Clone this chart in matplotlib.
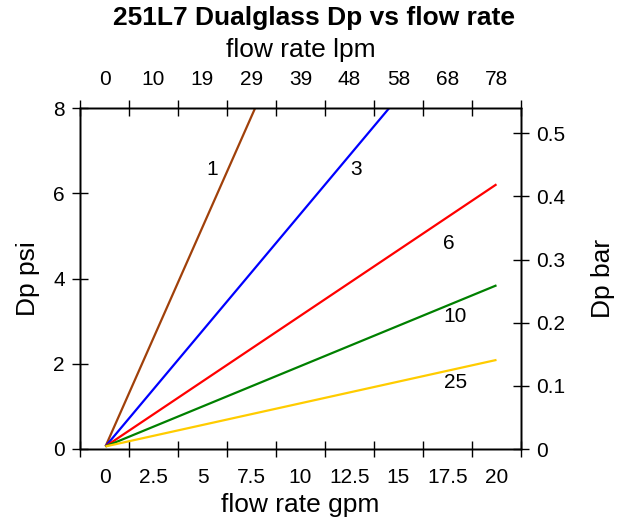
import numpy as np
import matplotlib
matplotlib.use("Agg")
import matplotlib.pyplot as plt

plt.rcParams['font.family'] = ['Liberation Sans', 'DejaVu Sans']

# flow in gpm, Dp in psi
flow_gpm = [0.05, 20.0]
series_names = ["1", "3", "6", "10", "25"]
dp_1 = [0.06, 20.8]
dp_3 = [0.06, 11.0]
dp_6 = [0.06, 6.21]
dp_10 = [0.06, 3.84]
dp_25 = [0.06, 2.09]
colors = ["#a0400a", "#0000ff", "#ff0000", "#008000", "#ffcc00"]

# label anchor points (gpm, psi)
label_x = [5.49, 12.81, 17.57, 17.91, 17.91]
label_y = [6.55, 6.55, 4.83, 3.11, 1.57]

gpm_ticks = [0, 2.5, 5, 7.5, 10, 12.5, 15, 17.5, 20]
gpm_labels = ["0", "2.5", "5", "7.5", "10", "12.5", "15", "17.5", "20"]
lpm_labels = ["0", "10", "19", "29", "39", "48", "58", "68", "78"]
psi_ticks = [0, 2, 4, 6, 8]
bar_ticks = [0, 0.1, 0.2, 0.3, 0.4, 0.5]
bar_labels = ["0", "0.1", "0.2", "0.3", "0.4", "0.5"]

fs_tick = 15
fs_label = 19

fig = plt.figure(figsize=(6.28, 5.22), dpi=100)
ax = fig.add_axes([80 / 628, 1 - 449 / 522, 441 / 628, 341 / 522])

for dp, c in zip([dp_1, dp_3, dp_6, dp_10, dp_25], colors):
    ax.plot(flow_gpm, dp, color=c, lw=1.6, solid_capstyle='butt')
for name, x, y in zip(series_names, label_x, label_y):
    ax.text(x, y, name, ha='center', va='center', fontsize=fs_tick)

xlo, xhi = -1.25, 21.25
edges = np.arange(xlo, xhi + 0.01, 2.5)
ax.set_xlim(xlo, xhi)
ax.set_ylim(0, 8)
ax.set_xticks(edges)
ax.set_xticklabels([])
ax.set_xticks(gpm_ticks, minor=True)
ax.set_xticklabels(gpm_labels, minor=True)
ax.set_yticks(psi_ticks)
ax.set_yticklabels([str(v) for v in psi_ticks])
ax.tick_params(which='major', direction='inout', length=12, width=1, labelsize=fs_tick, pad=5)
ax.tick_params(axis='x', which='minor', length=0, pad=14, labelsize=fs_tick)

axr = ax.twinx()
axr.set_ylim(0, 0.54)
axr.set_yticks(bar_ticks)
axr.set_yticklabels(bar_labels)
axr.tick_params(direction='inout', length=12, width=1, labelsize=fs_tick, pad=5)

axt = ax.twiny()
axt.set_xlim(xlo, xhi)
axt.set_xticks(edges)
axt.set_xticklabels([])
axt.set_xticks(gpm_ticks, minor=True)
axt.set_xticklabels(lpm_labels, minor=True)
axt.tick_params(which='major', direction='inout', length=12, width=1)
axt.tick_params(which='minor', length=0, pad=14, labelsize=fs_tick)

for a in (ax, axr, axt):
    for s in a.spines.values():
        s.set_linewidth(1)

ax.set_xlabel("flow rate gpm", fontsize=fs_label)
ax.xaxis.label.set_va('center')
ax.xaxis.set_label_coords(0.5, (449 - 505) / 341)
ax.set_ylabel("Dp psi", fontsize=fs_label)
ax.yaxis.label.set_va('center')
ax.yaxis.set_label_coords((28 - 80) / 441, 0.5)
axr.set_ylabel("Dp bar", fontsize=fs_label)
axr.yaxis.label.set_va('center')
axr.yaxis.set_label_coords((603 - 80) / 441, 0.5)
axt.set_xlabel("flow rate lpm", fontsize=fs_label)
axt.xaxis.label.set_va('center')
axt.xaxis.set_label_coords(0.5, (449 - 50) / 341)

fig.text(314 / 628, 1 - 18 / 522, "251L7 Dualglass Dp vs flow rate",
         ha='center', va='center', fontsize=fs_label, fontweight='bold')

fig.savefig("out.png", dpi=100)
